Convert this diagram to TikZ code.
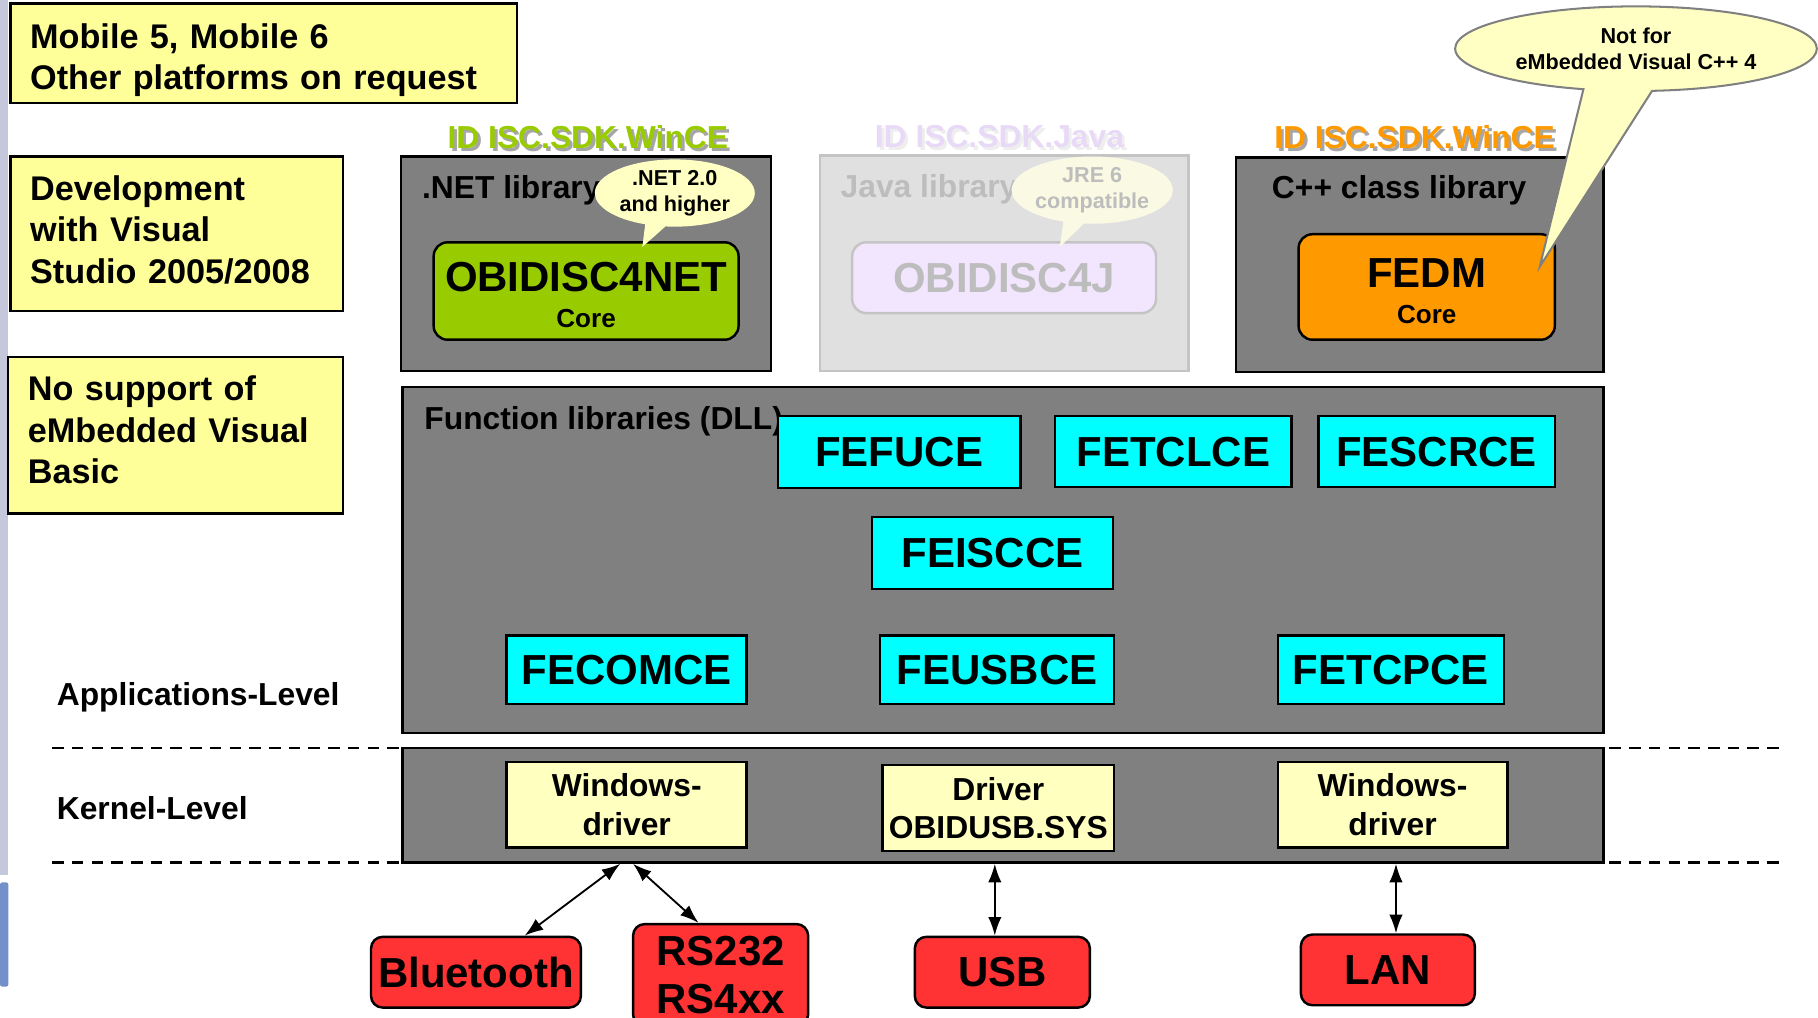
\documentclass[tikz,border=0pt]{standalone}
\usepackage{fontspec}
\setmainfont{Liberation Sans}
\usetikzlibrary{shapes.callouts,arrows.meta}

\definecolor{padyellow}{HTML}{FFFF99}
\definecolor{drvyellow}{HTML}{FFFFC0}
\definecolor{noteyellow}{HTML}{FFFFC4}
\definecolor{layergray}{HTML}{808080}
\definecolor{netgreen}{HTML}{99CC00}
\definecolor{cpporange}{HTML}{FF9900}
\definecolor{dllcyan}{HTML}{00FFFF}
\definecolor{portred}{HTML}{FF3333}
\definecolor{javafill}{HTML}{E0E0E0}
\definecolor{javaline}{HTML}{C4C4C4}
\definecolor{javatext}{HTML}{BDBDBD}
\definecolor{javaid}{HTML}{E8DAF7}
\definecolor{javacore}{HTML}{F2E6FF}
\definecolor{javanote}{HTML}{FAFAE4}
\definecolor{idshadow}{HTML}{A6A6A6}
\definecolor{javashadow}{HTML}{EEEEEE}
\definecolor{railgray}{HTML}{C4C8DA}
\definecolor{railblue}{HTML}{7391C8}

\newcommand{\fbig}{\fontsize{10.3}{12}\selectfont}
\newcommand{\fmid}{\fontsize{7.8}{9.4}\selectfont}
\newcommand{\fpad}{\fontsize{8.4}{10.1}\selectfont}
\newcommand{\fcore}{\fontsize{6.4}{8.7}\selectfont}
\newcommand{\fnote}{\fontsize{5.3}{6.5}\selectfont}
% invisible struts to nudge text inside fixed-size boxes
\newcommand{\uppad}[1]{\rule{0pt}{#1}}
\newcommand{\lowpad}[1]{\rule[-#1]{0pt}{#1}}

\begin{document}
\begin{tikzpicture}
	 [x=1cm,y=-1cm,line width=0.6pt,every node/.style={inner sep=0pt,font=\bfseries},
	  padbox/.style={draw,fill=padyellow,align=left,inner xsep=0.17cm,font=\bfseries\fpad},
	  layerbox/.style={draw,fill=layergray},
	  corebox/.style={draw,rounded corners=0.12cm,align=center,font=\bfseries\fcore},
	  dllbox/.style={draw,fill=dllcyan,font=\bfseries\fbig},
	  drvbox/.style={draw,fill=drvyellow,align=center,font=\bfseries\fmid},
	  portbox/.style={draw,fill=portred,rounded corners=0.1cm,align=center,font=\bfseries\fbig},
	  notebubble/.style={ellipse callout,fill=noteyellow,align=center,font=\bfseries\fnote},
	  layertitle/.style={anchor=west,font=\bfseries\fmid},
	  idtag/.style={font=\bfseries\fmid},
	  tip/.style={{Latex[length=1.6mm,width=1.15mm]}-{Latex[length=1.6mm,width=1.15mm]},line width=0.45pt}]

	  \useasboundingbox (0,0) rectangle (15.68,8.78);

	  \fill[railgray] (0,0) rectangle (0.072,7.55);
	  \fill[railblue,rounded corners=0.02cm] (0,7.61) rectangle (0.072,8.51);

	  \node (plat)[padbox,text width=4.03cm,minimum height=0.86cm] at (2.275,0.46) {\uppad{9.5pt}Mobile 5, Mobile 6\\Other platforms on request};
	  \node (dev)[padbox,text width=2.53cm,minimum height=1.33cm] at (1.525,2.015) {Development\\with Visual\\Studio 2005/2008\lowpad{2pt}};
	  \node (nosup)[padbox,text width=2.55cm,minimum height=1.35cm] at (1.515,3.755) {No support of\\eMbedded Visual\\Basic\lowpad{2.8pt}};

	  \node (applvl)[layertitle] at (0.48,6.01) {Applications-Level};
	  \node (krnlvl)[layertitle] at (0.48,6.97) {Kernel-Level};

	  \draw[dash pattern=on 0.1cm off 0.07cm] (0.45,6.45) -- (15.35,6.45);
	  \draw[dash pattern=on 0.1cm off 0.07cm] (0.45,7.44) -- (15.35,7.44);

	  \node[idtag,text=idshadow] at (5.095,1.205) {ID ISC.SDK.WinCE};
	  \node (idnet)[idtag,text=netgreen] at (5.07,1.18) {ID ISC.SDK.WinCE};
	  \node[idtag,text=javashadow] at (8.645,1.205) {ID ISC.SDK.Java};
	  \node (idjava)[idtag,text=javaid] at (8.62,1.18) {ID ISC.SDK.Java};
	  \node[idtag,text=idshadow] at (12.225,1.205) {ID ISC.SDK.WinCE};
	  \node (idcpp)[idtag,text=cpporange] at (12.20,1.18) {ID ISC.SDK.WinCE};

	  \node (netlib)[layerbox,minimum width=3.19cm,minimum height=1.85cm] at (5.055,2.275) {};
	  \node (javalib)[draw=javaline,fill=javafill,minimum width=3.18cm,minimum height=1.86cm] at (8.66,2.27) {};
	  \node (cpplib)[layerbox,minimum width=3.17cm,minimum height=1.85cm] at (12.245,2.285) {};
	  \node (nettitle)[layertitle] at (3.63,1.64) {.NET library};
	  \node (javatitle)[layertitle,text=javatext] at (7.24,1.63) {Java library};
	  \node (cpptitle)[layertitle] at (10.96,1.64) {C++ class library};

	  \node (obinet)[corebox,fill=netgreen,minimum width=2.63cm,minimum height=0.84cm] at (5.055,2.51) {{\fbig\uppad{9.2pt}OBIDISC4NET}\\Core};
	  \node (obij)[corebox,fill=javacore,draw=javaline,text=javatext,minimum width=2.62cm,minimum height=0.61cm] at (8.66,2.395) {{\fbig OBIDISC4J}};
	  \node (fedm)[corebox,fill=cpporange,minimum width=2.21cm,minimum height=0.91cm] at (12.305,2.475) {{\fbig\uppad{9.2pt}FEDM}\\Core};

	  \node (netnote)[notebubble,minimum width=1.38cm,minimum height=0.58cm,callout absolute pointer={(5.54,2.13)}] at (5.82,1.665) {.NET 2.0\\and higher};
	  \node (javanote)[notebubble,fill=javanote,text=javatext,minimum width=1.38cm,minimum height=0.58cm,callout absolute pointer={(9.14,2.13)}] at (9.42,1.64) {JRE 6\\compatible};
	  \node (cppnote)[notebubble,draw=layergray,line width=0.5pt,minimum width=3.12cm,minimum height=0.73cm,callout pointer arc=22,callout absolute pointer={(13.28,2.30)}] at (14.11,0.42) {Not for\\eMbedded Visual C++ 4};

	  \node (fnlib)[layerbox,minimum width=10.36cm,minimum height=2.98cm] at (8.65,4.83) {};
	  \node (fntitle)[layertitle] at (3.65,3.63) {Function libraries (DLL)};
	  \node (fefuce)[dllbox,minimum width=2.09cm,minimum height=0.62cm] at (7.755,3.90) {FEFUCE};
	  \node (fetclce)[dllbox,minimum width=2.04cm,minimum height=0.61cm] at (10.12,3.895) {FETCLCE};
	  \node (fescrce)[dllbox,minimum width=2.04cm,minimum height=0.61cm] at (12.39,3.895) {FESCRCE};
	  \node (feiscce)[dllbox,minimum width=2.08cm,minimum height=0.62cm] at (8.56,4.77) {FEISCCE};
	  \node (fecomce)[dllbox,minimum width=2.07cm,minimum height=0.59cm] at (5.405,5.775) {FECOMCE};
	  \node (feusbce)[dllbox,minimum width=2.02cm,minimum height=0.59cm] at (8.60,5.775) {FEUSBCE};
	  \node (fetcpce)[dllbox,minimum width=1.95cm,minimum height=0.59cm] at (11.995,5.775) {FETCPCE};

	  \node (kern)[layerbox,minimum width=10.36cm,minimum height=0.99cm] at (8.65,6.945) {};
	  \node (drvcom)[drvbox,minimum width=2.07cm,minimum height=0.74cm] at (5.405,6.94) {Windows-\\driver};
	  \node (drvusb)[drvbox,minimum width=2.00cm,minimum height=0.74cm] at (8.61,6.97) {Driver\\OBIDUSB.SYS};
	  \node (drvtcp)[drvbox,minimum width=1.98cm,minimum height=0.74cm] at (12.01,6.94) {Windows-\\driver};

	  \node (bt)[portbox,minimum width=1.81cm,minimum height=0.61cm] at (4.105,8.385) {Bluetooth};
	  \node (rs)[portbox,minimum width=1.51cm,minimum height=0.88cm] at (6.215,8.41) {RS232\\RS4xx};
	  \node (usb)[portbox,minimum width=1.51cm,minimum height=0.61cm] at (8.645,8.385) {USB};
	  \node (lan)[portbox,minimum width=1.50cm,minimum height=0.61cm] at (11.97,8.365) {LAN};

	  \coordinate (kA) at (5.35,7.45);
	  \coordinate (kB) at (5.46,7.45);
	  \coordinate (kC) at (8.58,7.45);
	  \coordinate (kD) at (12.04,7.45);
	  \coordinate (rsin) at ([xshift=-0.19cm]rs.north);
	  \coordinate (usbin) at (usb.north -| kC);
	  \coordinate (lanin) at (lan.north -| kD);

	\foreach \from/\to in {kA/bt,kB/rsin,kC/usbin,kD/lanin}
    \draw[tip] (\from) -- (\to);

\end{tikzpicture}
\end{document}
